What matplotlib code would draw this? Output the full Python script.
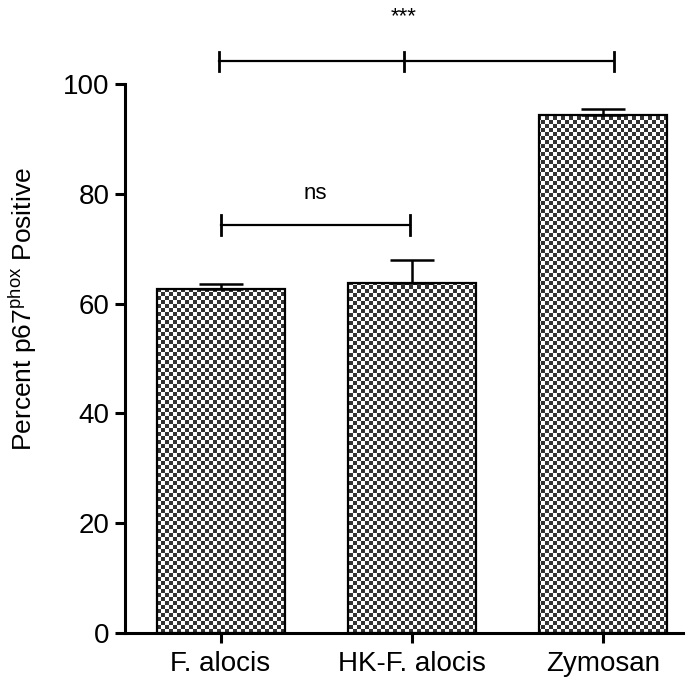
import numpy as np
import matplotlib
matplotlib.use("Agg")
import matplotlib.pyplot as plt
from matplotlib.colors import ListedColormap

plt.rcParams['font.family'] = ['Liberation Sans', 'DejaVu Sans']
plt.rcParams['mathtext.default'] = 'regular'

# Data
categories = ["F. alocis", "HK-F. alocis", "Zymosan"]
means = [62.7, 63.7, 94.3]
sems = [0.8, 4.2, 1.1]
yticks = [0, 20, 40, 60, 80, 100]

fig = plt.figure(figsize=(6.87, 6.77), dpi=100)
ax = fig.add_axes([0.182, 0.065, 0.812, 0.811])

x = np.arange(len(categories))
width = 0.67
bars = ax.bar(x, means, width=width, facecolor='none', edgecolor='black',
              linewidth=1.6, zorder=3)

xlim = (-0.5, 2.42)
ax.set_xlim(*xlim)
ax.set_ylim(0, 100)

# checkerboard fill clipped to each bar
cell_x = 0.0209
cell_y = 0.729
nx = int(np.ceil((xlim[1] - xlim[0]) / cell_x))
ny = int(np.ceil(100 / cell_y))
ii, jj = np.meshgrid(np.arange(nx), np.arange(ny))
board = ((ii + jj) % 2).astype(float)
cmap = ListedColormap(['#ffffff', '#333333'])
for b in bars:
    im = ax.imshow(board, extent=(xlim[0], xlim[0] + nx * cell_x, 0, ny * cell_y),
                   origin='lower', cmap=cmap, interpolation='nearest',
                   aspect='auto', zorder=2)
    im.set_clip_path(b)
ax.set_xlim(*xlim)
ax.set_ylim(0, 100)

# upper error bars
ax.errorbar(x, means, yerr=[np.zeros(len(sems)), sems], fmt='none',
            ecolor='black', elinewidth=1.8, capsize=16, capthick=1.8,
            zorder=4)

for s in ['top', 'right']:
    ax.spines[s].set_visible(False)
for s in ['left', 'bottom']:
    ax.spines[s].set_linewidth(2.2)

ax.set_yticks(yticks)
ax.set_xticks(x)
ax.set_xticklabels(categories)
ax.tick_params(axis='both', direction='out', length=7, width=2.2,
               labelsize=20, pad=4)
ax.tick_params(axis='x', pad=6)
ax.set_ylabel('Percent p67$^{phox}$ Positive', fontsize=19, labelpad=14)
ax.yaxis.set_label_coords(-0.155, 0.59)

# significance brackets
def bracket(xs, y, label, text_y, h=1.8):
    ax.plot([xs[0], xs[-1]], [y, y], color='black', lw=1.6, clip_on=False)
    for xv in xs:
        ax.plot([xv, xv], [y - h, y + h], color='black', lw=2.0,
                clip_on=False)
    ax.text(xs[len(xs) // 2] if len(xs) > 2 else np.mean(xs), text_y, label,
            ha='center', va='center', fontsize=16, clip_on=False)

bracket([0.0, 0.99], 74.3, 'ns', 80.0)
bracket([-0.01, 0.96, 2.06], 104.1, '***', 112.3)

fig.savefig('out.png', dpi=100)
